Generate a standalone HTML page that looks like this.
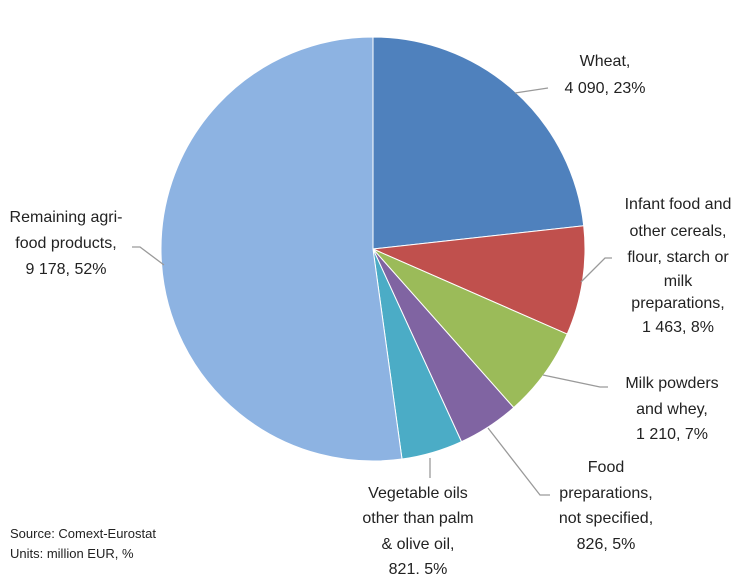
<!DOCTYPE html>
<html><head><meta charset="utf-8"><style>
body{margin:0;background:#fff;}
svg text{font-family:"Liberation Sans",sans-serif;font-size:16px;fill:#222;}
</style></head><body>
<svg width="745" height="574">
<g id="slices"></g>
<g id="labels" stroke="#9a9a9a" stroke-width="1.3" fill="none">
<polyline points="515,93 548,88"/>
<polyline points="581,282 605,258 612,258"/>
<polyline points="543,375 600,387 608,387"/>
<polyline points="488,428 540,495 550,495"/>
<polyline points="430,458 430,478"/>
<polyline points="164,265 140,247 132,247"/>
</g>
<g text-anchor="middle">
<text><tspan x="605" y="66">Wheat,</tspan><tspan x="605" y="93">4 090, 23%</tspan></text>
<text><tspan x="678" y="209">Infant food and</tspan><tspan x="678" y="236">other cereals,</tspan><tspan x="678" y="262">flour, starch or</tspan><tspan x="678" y="286">milk</tspan><tspan x="678" y="308">preparations,</tspan><tspan x="678" y="332">1 463, 8%</tspan></text>
<text><tspan x="672" y="388">Milk powders</tspan><tspan x="672" y="414">and whey,</tspan><tspan x="672" y="439">1 210, 7%</tspan></text>
<text><tspan x="606" y="472">Food</tspan><tspan x="606" y="498">preparations,</tspan><tspan x="606" y="523">not specified,</tspan><tspan x="606" y="549">826, 5%</tspan></text>
<text><tspan x="418" y="498">Vegetable oils</tspan><tspan x="418" y="523">other than palm</tspan><tspan x="418" y="549">&amp; olive oil,</tspan><tspan x="418" y="574">821, 5%</tspan></text>
</g>
<text text-anchor="middle"><tspan x="66" y="222">Remaining agri-</tspan><tspan x="66" y="248">food products,</tspan><tspan x="66" y="274">9 178, 52%</tspan></text>
<text style="font-size:13px"><tspan x="10" y="538">Source: Comext-Eurostat</tspan><tspan x="10" y="558">Units: million EUR, %</tspan></text>
</svg>
<script>
const categories=["Wheat","Infant food and other cereals","Milk powders and whey","Food preparations","Vegetable oils","Remaining agri-food products"];
const values=[4090,1463,1210,826,821,9178];
const colors=["#4F81BD","#C0504D","#9BBB59","#8064A2","#4BACC6","#8DB3E2"];
const cx=373,cy=249,r=212;
const g=document.getElementById('slices');
const total=values.reduce((a,b)=>a+b,0);
let a0=0;
values.forEach((v,i)=>{
  const a1=a0+v/total*2*Math.PI;
  const x0=cx+r*Math.sin(a0),y0=cy-r*Math.cos(a0),x1=cx+r*Math.sin(a1),y1=cy-r*Math.cos(a1);
  const p=document.createElementNS('http://www.w3.org/2000/svg','path');
  p.setAttribute('d',`M${cx},${cy}L${x0},${y0}A${r},${r} 0 ${a1-a0>Math.PI?1:0} 1 ${x1},${y1}Z`);
  p.setAttribute('fill',colors[i]);p.setAttribute('stroke','#fff');p.setAttribute('stroke-width','1');
  
  
  g.appendChild(p);
  a0=a1;
});
</script>
</body></html>
